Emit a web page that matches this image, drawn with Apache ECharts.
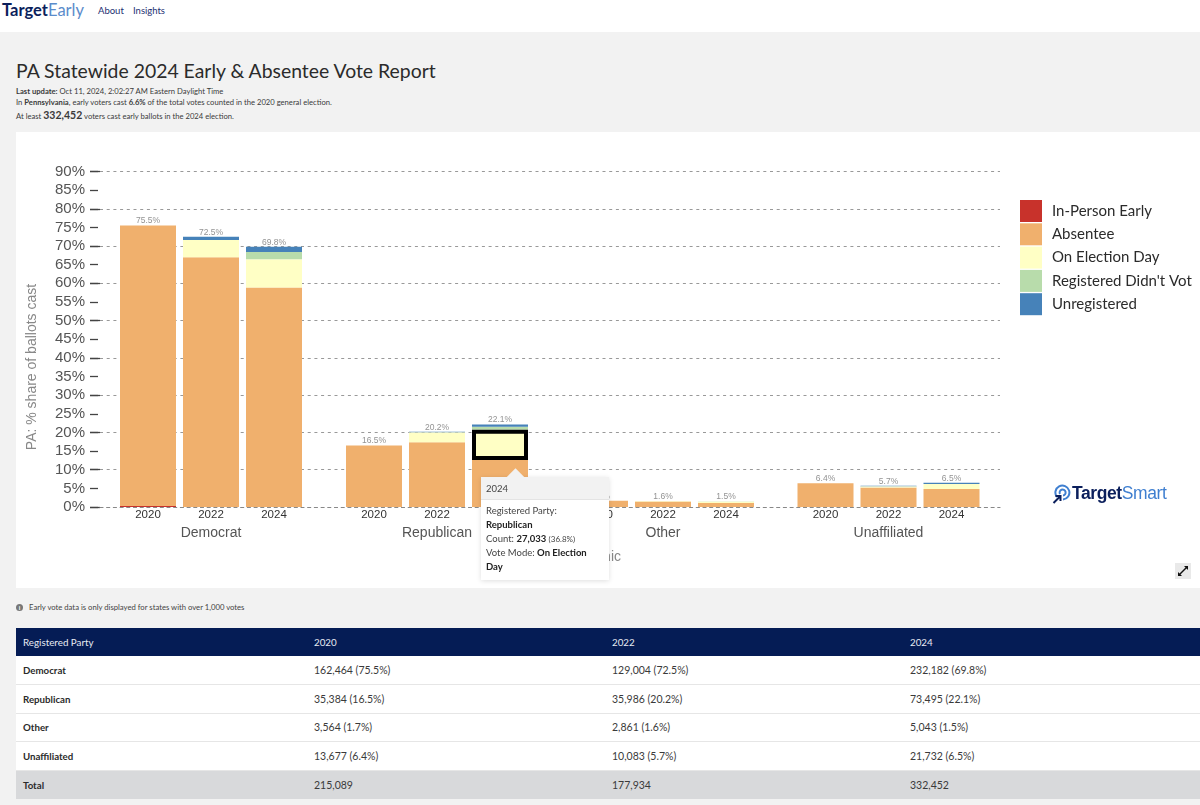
<!DOCTYPE html>
<html>
<head>
<meta charset="utf-8">
<title>PA Statewide 2024 Early & Absentee Vote Report</title>
<script src="https://cdn.jsdelivr.net/npm/echarts@6/dist/echarts.min.js"></script>
<style>
  html, body { margin: 0; padding: 0; }
  body { width: 1200px; height: 805px; background: #f2f2f2; font-family: Lato, "Open Sans", sans-serif; color: #2b2b2b; position: relative; overflow: hidden; }
  .nav { position: absolute; left: 0; top: 0; width: 1200px; height: 32px; background: #fff; }
  .brand { position: absolute; left: 2px; top: 0; font-size: 16.5px; line-height: 21px; color: #0b1f5c; font-weight: 700; }
  .brand span { color: #5b8ccb; font-weight: 400; }
  .nav a { position: absolute; top: 3px; font-size: 9.5px; line-height: 15px; color: #1c2f72; }
  h1 { position: absolute; left: 16px; top: 58px; margin: 0; font-size: 19.4px; line-height: 26px; font-weight: 400; color: #2b2b2b; white-space: nowrap; }
  .sub { position: absolute; left: 16px; font-size: 7.65px; line-height: 12px; color: #3a3a3a; white-space: nowrap; }
  .sub b.big { font-size: 10.5px; }
  #chart { position: absolute; left: 16px; top: 132px; width: 1184px; height: 456px; background: #fff; }
  .logo { position: absolute; left: 1052px; top: 483px; height: 22px; font-family: "Liberation Sans", sans-serif; font-size: 17.5px; line-height: 21px; font-weight: 700; color: #0b1f5c; letter-spacing: -0.4px; padding-left: 20px; }
  .logo span { color: #3f7fd0; font-weight: 400; }
  .logo svg { position: absolute; left: 0; top: 1px; }
  .expand { position: absolute; left: 1175px; top: 563px; width: 16px; height: 16px; background: #e9e9e9; }
  .note { position: absolute; left: 29px; top: 601px; font-size: 7.7px; line-height: 12px; color: #444; white-space: nowrap; }
  .info { position: absolute; left: 16px; top: 604px; width: 7px; height: 7px; border-radius: 50%; background: #777; color: #fff; font-size: 6px; line-height: 7px; text-align: center; font-weight: 700; }
  table { position: absolute; left: 16px; top: 628px; width: 1184px; border-collapse: collapse; table-layout: fixed; font-size: 10.5px; }
  th, td { height: 28.5px; padding: 0 0 0 7px; text-align: left; font-weight: 400; box-sizing: border-box; background: #fff; color: #3a3a3a; border-bottom: 1px solid #e6e6e6; }
  th { background: #051c55; color: #e8ebf3; height: 28px; border: 0; font-size: 9.8px; }
  td:first-child { font-weight: 700; color: #2b2b2b; font-size: 9.7px; }
  tr.total td { background: #d8d9db; border: 0; }
  .tip { position: relative; width: 128px; height: 103px; margin-top: 7px; background: #fff; box-shadow: 0 1px 5px rgba(0,0,0,.13); font-family: Lato, sans-serif; font-size: 9.5px; line-height: 14px; color: #444; white-space: normal; }
  .tip .arrow { position: absolute; left: 28px; top: -6px; width: 13px; height: 13px; background: #f2f2f2; transform: rotate(45deg); }
  .tip .head { position: relative; height: 23px; line-height: 23px; padding-left: 5px; background: #f2f2f2; border-bottom: 1px solid #e4e4e4; box-sizing: border-box; }
  .tip .body { padding: 4px 5px 0; }
  .tip b { color: #222; }
  .tip small { font-size: 8px; }
</style>
</head>
<body>
<div class="nav">
  <div class="brand">Target<span>Early</span></div>
  <a style="left:98px">About</a>
  <a style="left:133px">Insights</a>
</div>
<h1>PA Statewide 2024 Early &amp; Absentee Vote Report</h1>
<div class="sub" style="top:85px"><b>Last update:</b> Oct 11, 2024, 2:02:27 AM Eastern Daylight Time</div>
<div class="sub" style="top:96px">In <b>Pennsylvania</b>, early voters cast <b>6.6%</b> of the total votes counted in the 2020 general election.</div>
<div class="sub" style="top:109px">At least <b class="big">332,452</b> voters cast early ballots in the 2024 election.</div>
<div id="chart"></div>
<div class="logo">
  <svg width="19" height="20" viewBox="0 0 19 20" fill="none">
    <path d="M5 13 A7 7 0 1 1 11 15.5" stroke="#3f7fd0" stroke-width="2"/>
    <path d="M8 10 A3 3 0 1 1 11 11.5" stroke="#3f7fd0" stroke-width="2"/>
    <path d="M1.5 19 L8 12.5 M3.5 12 H8.5 V17" stroke="#0b1f5c" stroke-width="2"/>
  </svg>Target<span>Smart</span>
</div>
<div class="expand">
  <svg width="16" height="16" viewBox="0 0 16 16" fill="#111">
    <path d="M4 12 L12 4" stroke="#111" stroke-width="1.4"/>
    <path d="M9 3 H13 V7 Z M3 9 V13 H7 Z"/>
  </svg>
</div>
<div class="info">i</div>
<div class="note">Early vote data is only displayed for states with over 1,000 votes</div>
<table id="table"></table>

<script>
var parties = ['Democrat', 'Republican', 'Other', 'Unaffiliated']
var years = ['2020', '2022', '2024']

// % of ballots cast, one row per party, one value per year
var inPersonEarly = [[0.3, 0, 0], [0, 0, 0], [0, 0, 0], [0, 0, 0]]
var absentee = [[75.2, 67.0, 58.9], [16.5, 17.4, 12.6], [1.7, 1.5, 1.1], [6.4, 5.2, 4.8]]
var onElectionDay = [[0, 4.6, 7.5], [0, 2.6, 8.1], [0, 0.1, 0.3], [0, 0.3, 1.4]]
var registeredDidntVote = [[0, 0, 2.0], [0, 0, 0.8], [0, 0, 0.1], [0, 0, 0]]
var unregistered = [[0, 0.9, 1.4], [0, 0.2, 0.6], [0, 0, 0], [0, 0.2, 0.3]]
var totals = [[75.5, 72.5, 69.8], [16.5, 20.2, 22.1], [1.7, 1.6, 1.5], [6.4, 5.7, 6.5]]

var modeNames = ['In-Person Early', 'Absentee', 'On Election Day', "Registered Didn't Vot", 'Unregistered']
var modeColors = ['#c8322b', '#f0b06d', '#ffffc5', '#b8dcab', '#4682b9']
var modeValues = [inPersonEarly, absentee, onElectionDay, registeredDidntVote, unregistered]

var tableHead = ['Registered Party', '2020', '2022', '2024']
var tableRows = [
  ['Democrat', '162,464 (75.5%)', '129,004 (72.5%)', '232,182 (69.8%)'],
  ['Republican', '35,384 (16.5%)', '35,986 (20.2%)', '73,495 (22.1%)'],
  ['Other', '3,564 (1.7%)', '2,861 (1.6%)', '5,043 (1.5%)'],
  ['Unaffiliated', '13,677 (6.4%)', '10,083 (5.7%)', '21,732 (6.5%)'],
  ['Total', '215,089', '177,934', '332,452']
]

// table under the chart
var colWidths = [291, 298, 298, 297]
var html = '<colgroup>' + colWidths.map(function (w) { return '<col style="width:' + w + 'px">' }).join('') + '</colgroup>'
html += '<tr>' + tableHead.map(function (t) { return '<th>' + t + '</th>' }).join('') + '</tr>'
tableRows.forEach(function (r) {
  html += '<tr' + (r[0] === 'Total' ? ' class="total"' : '') + '>' + r.map(function (t) { return '<td>' + t + '</td>' }).join('') + '</tr>'
})
document.getElementById('table').innerHTML = html

var plotTop = 39.5
var plotHeight = 335.5
var facetLeft = [100.5, 326.5, 552.5, 778]

var grids = [{ left: 84, width: 900, top: plotTop, height: plotHeight }]
var xAxes = [{
  gridIndex: 0, type: 'category', data: [''], z: 5,
  axisLine: { lineStyle: { color: '#888', type: [3, 3.7], width: 1.2 } },
  axisTick: { show: false }, axisLabel: { show: false }
}]
var yAxes = [{
  gridIndex: 0, type: 'value', min: 0, max: 90, interval: 5, offset: 2,
  axisLine: { show: false },
  axisTick: { show: true, length: 8, lineStyle: { color: '#444', width: 1.3 } },
  axisLabel: { margin: 13, fontFamily: 'Liberation Sans', fontSize: 15, color: '#555', formatter: '{value}%' },
  splitLine: { show: false }
}, {
  gridIndex: 0, type: 'value', min: 0, max: 90, interval: 10, position: 'left',
  axisLine: { show: false },
  axisTick: { show: true, length: 10, lineStyle: { color: '#444', width: 1.3 } },
  axisLabel: { show: false },
  splitLine: { show: true, lineStyle: { color: '#999', type: [3, 3.7], width: 1.2 } }
}]
var series = []

parties.forEach(function (party, p) {
  var g = p + 1
  grids.push({ left: facetLeft[p], width: 189, top: plotTop, height: plotHeight })
  xAxes.push({
    gridIndex: g, type: 'category', data: years,
    axisLine: { show: false }, axisTick: { show: false },
    axisLabel: { margin: 2, fontFamily: 'Liberation Sans', fontSize: 11.5, color: '#333' },
    name: party, nameLocation: 'middle', nameGap: 18,
    nameTextStyle: { fontFamily: 'Liberation Sans', fontSize: 14, color: '#555' }
  })
  yAxes.push({ gridIndex: g, type: 'value', min: 0, max: 90, show: false })
  modeNames.forEach(function (name, m) {
    var rows = modeValues[m][p].map(function (v, y) {
      // the selected block in the reference: Republican 2024, On Election Day
      if (party === 'Republican' && y === 2 && name === 'On Election Day') {
        return { value: v, itemStyle: { borderColor: '#000', borderWidth: 4 } }
      }
      return v
    })
    series.push({
      name: name, type: 'bar', stack: 'p' + p, xAxisIndex: g, yAxisIndex: p + 2,
      barWidth: 56, data: rows, z: name === 'On Election Day' ? 4 : 2,
      itemStyle: { color: modeColors[m] },
      emphasis: { disabled: true }, animation: false
    })
  })
  series.push({
    type: 'scatter', xAxisIndex: g, yAxisIndex: p + 2, symbolSize: 0, data: totals[p], z: 6,
    tooltip: { show: false }, animation: false, silent: true,
    label: { show: true, position: 'top', distance: 0, fontFamily: 'Liberation Sans', fontSize: 8.5, color: '#777', formatter: function (o) { return o.value.toFixed(1) + '%' } }
  })
})

var tipHtml = '<div class="tip"><div class="arrow"></div><div class="head">2024</div><div class="body">' +
  'Registered Party:<br><b>Republican</b><br>Count: <b>27,033</b> <small>(36.8%)</small><br>Vote Mode: <b>On Election Day</b></div></div>'

var chart = echarts.init(document.getElementById('chart'))
chart.setOption({
  animation: false,
  backgroundColor: '#fff',
  grid: grids, xAxis: xAxes, yAxis: yAxes, series: series,
  legend: {
    orient: 'vertical', left: 999, top: 63, itemWidth: 22, itemHeight: 22, itemGap: 1.3,
    selectedMode: false, icon: 'rect', data: modeNames,
    textStyle: { fontFamily: 'Lato', fontSize: 15, color: '#2b2b2b', padding: [0, 0, 0, 5] }
  },
  graphic: [{
    type: 'text', right: 579, top: 418, z: 1,
    style: { text: 'Demographic', fontFamily: 'Liberation Sans', fontSize: 14, fill: '#888' }
  }, {
    type: 'text', x: 16, y: 235, rotation: Math.PI / 2, z: 1,
    style: { text: 'PA: % share of ballots cast', fontFamily: 'Liberation Sans', fontSize: 14, fill: '#888', align: 'center', verticalAlign: 'middle' }
  }],
  tooltip: {
    trigger: 'item', alwaysShowContent: true, transitionDuration: 0, padding: 0, borderWidth: 0,
    backgroundColor: 'transparent', extraCssText: 'box-shadow:none;',
    position: [465, 338], formatter: function () { return tipHtml }
  }
})
chart.dispatchAction({ type: 'showTip', seriesIndex: 8, dataIndex: 2 })
</script>
</body>
</html>
